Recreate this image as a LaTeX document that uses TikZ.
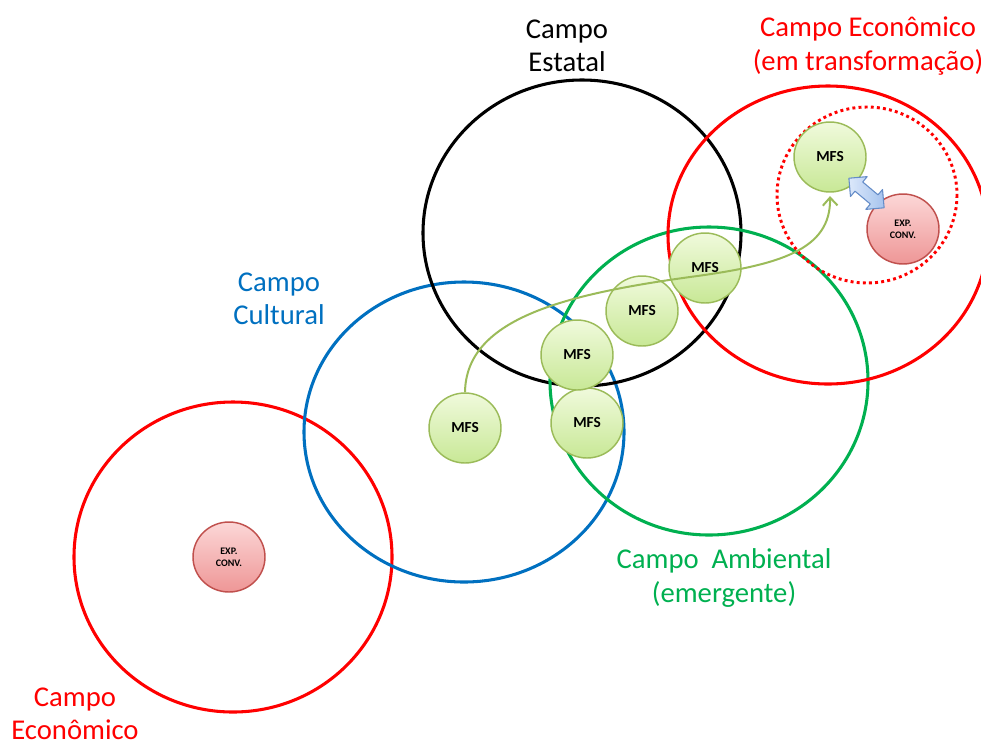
\documentclass[tikz,border=0pt]{standalone}
\usepackage{fontspec}
\setmainfont{Carlito}
\usetikzlibrary{shapes.geometric,arrows.meta,calc}

\definecolor{fieldred}{RGB}{255,0,0}
\definecolor{fieldblue}{RGB}{0,112,192}
\definecolor{fieldgreen}{RGB}{0,176,80}
\definecolor{mfsline}{RGB}{155,187,89}
\definecolor{mfstop}{RGB}{240,250,220}
\definecolor{mfsbot}{RGB}{200,232,150}
\definecolor{convline}{RGB}{192,80,77}
\definecolor{convtop}{RGB}{252,215,215}
\definecolor{convbot}{RGB}{238,150,150}
\definecolor{dbltop}{RGB}{220,232,250}
\definecolor{dblbot}{RGB}{165,195,238}
\definecolor{dblline}{RGB}{100,140,200}

\tikzset{
  field/.style={line width=2.3pt},
  fieldlabel/.style={align=center, font=\fontsize{21.5}{25}\selectfont, inner sep=0pt},
  mfs/.style={ellipse, draw=mfsline, line width=1.1pt, top color=mfstop, bottom color=mfsbot,
    minimum width=54pt, minimum height=52.5pt, inner sep=0pt,
    font=\bfseries\fontsize{11.5}{13}\selectfont},
  conv/.style={ellipse, draw=convline, line width=1.1pt, top color=convtop, bottom color=convbot,
    minimum width=54pt, minimum height=52.5pt, inner sep=0pt, align=center,
    font=\bfseries\fontsize{7.5}{9}\selectfont},
  flow/.style={draw=mfsline, line width=1.5pt, -{Straight Barb[length=6pt,width=11pt,line width=1.5pt]}},
  exchange/.style={draw=dblline, line width=0.8pt, line join=round, left color=dbltop, right color=dblbot}
}

\begin{document}
\begin{tikzpicture}[x=0.75pt,y=-0.75pt]
  \useasboundingbox (0,0) rectangle (981,740);
  \clip (0,0) rectangle (981,740);

  % the fields
  \draw[field, fieldred] (233,557) ellipse [x radius=159, y radius=155];
  \draw[field, fieldblue] (464,432) ellipse [x radius=160, y radius=150];
  \draw[field, black] (582,233) ellipse [x radius=159, y radius=153];
  \draw[field, fieldgreen] (709,381) ellipse [x radius=159, y radius=154];
  \draw[field, fieldred] (828,235) ellipse [x radius=160, y radius=149];
  \draw[fieldred, line width=2.2pt, dash pattern=on 2.2pt off 2.4pt] (867,195) ellipse [x radius=90, y radius=88];

  % field labels
  \node[fieldlabel] (lestatal) at (567,46) {Campo\\Estatal};
  \node[fieldlabel, text=fieldred] (leconT) at (868,46) {Campo Econômico\\(em transformação)};
  \node[fieldlabel, text=fieldblue] (lcultural) at (279,299) {Campo\\Cultural};
  \node[fieldlabel, text=fieldgreen] (lambiental) at (724,578) {Campo~~Ambiental\\(emergente)};
  \node[fieldlabel, text=fieldred] (lecon) at (75,714) {Campo\\Econômico};

  % actors
  \node[conv] (conv1) at (229,557) {EXP.\\CONV.};
  \node[mfs] (m1) at (465,428) {MFS};
  \node[mfs] (m2) at (587,423) {MFS};
  \node[mfs] (m3) at (577,355) {MFS};
  \node[mfs] (m4) at (642,311) {MFS};
  \node[mfs] (m5) at (705,268) {MFS};
  \node[mfs] (m6) at (830,157) {MFS};
  \node[conv] (conv2) at (903,229) {EXP.\\CONV.};

  % trajectory of the MFS
  \draw[flow] (m1.north) .. controls (466,320) and (560,295) .. (690,277)
                         .. controls (780,265) and (831,250) .. ([yshift=-2.5pt]m6.south);

  % two-way exchange between MFS and conventional experience
  \begin{scope}[shift={($(m6)!0.5!(conv2)$)}, rotate=-40]
    \path[exchange] (-23,0) -- (-10,13) -- (-10,6) -- (10,6) -- (10,13) -- (23,0)
      -- (10,-13) -- (10,-6) -- (-10,-6) -- (-10,-13) -- cycle;
  \end{scope}
\end{tikzpicture}
\end{document}
